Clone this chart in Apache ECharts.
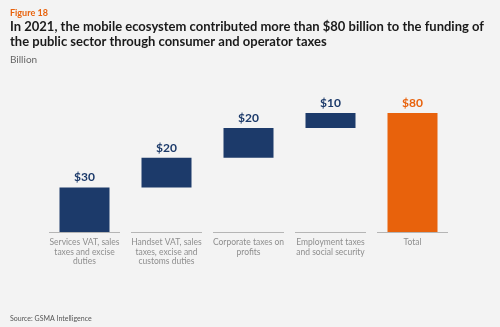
<!DOCTYPE html>
<html><head><meta charset="utf-8">
<script src="https://cdn.jsdelivr.net/npm/echarts@6/dist/echarts.min.js"></script>
<style>html,body{margin:0;padding:0;background:#f3f3f3}#c{width:500px;height:327px}</style>
</head><body><div id="c"></div>
<script>
const categories = ['Services VAT, sales\ntaxes and excise\nduties','Handset VAT, sales\ntaxes, excise and\ncustoms duties','Corporate taxes on\nprofits','Employment taxes\nand social security','Total'];
const values = [30, 20, 20, 10, 80];
const isTotal = [false, false, false, false, true];

const bases = [];
let run = 0;
values.forEach((v, i) => { if (isTotal[i]) { bases.push(0); } else { bases.push(run); run += v; } });

const NAVY = '#1c3a6a', ORANGE = '#e8620c';
const chart = echarts.init(document.getElementById('c'));
chart.setOption({
  backgroundColor: '#f3f3f3',
  animation: false,
  title: [
    {text: 'Figure 18', left: 5, top: 4, textStyle: {fontFamily: 'Lato', fontSize: 9, fontWeight: 'bold', color: '#e8620c'}},
    {text: 'In 2021, the mobile ecosystem contributed more than $80 billion to the funding of\nthe public sector through consumer and operator taxes', left: 5, top: 15,
     textStyle: {fontFamily: 'Lato', fontSize: 13, fontWeight: 'bold', color: '#1a1a1a', lineHeight: 14.5}},
    {text: 'Billion', left: 5, top: 50, textStyle: {fontFamily: 'Lato', fontSize: 10, fontWeight: 'normal', color: '#666'}},
    {text: 'Source: GSMA Intelligence', left: 5, top: 310, textStyle: {fontFamily: 'Lato', fontSize: 7, fontWeight: 'normal', color: '#555'}}
  ],
  grid: {left: 43.5, right: 46.5, top: 113, bottom: 95},
  xAxis: {type: 'category', data: categories, axisLine: {show: false}, axisTick: {show: false},
    axisLabel: {interval: 0, margin: 6, fontFamily: 'Lato', fontSize: 8.5, lineHeight: 9.5, color: '#8e8e8e'}},
  yAxis: {type: 'value', min: 0, max: 80, show: false},
  series: [
    {type: 'bar', stack: 'w', data: bases, itemStyle: {color: 'transparent'}, barWidth: 50, silent: true},
    {type: 'bar', stack: 'w', barWidth: 50,
     data: values.map((v, i) => ({value: v, itemStyle: {color: isTotal[i] ? ORANGE : NAVY},
       label: {color: isTotal[i] ? ORANGE : NAVY}})),
     label: {show: true, position: 'top', distance: 4, formatter: p => '$' + p.value, fontFamily: 'Lato', fontSize: 12, fontWeight: 'bold'}},
    {type: 'custom', data: categories.map((c, i) => [i, 0]), silent: true, z: 5,
     renderItem: (params, api) => {
       const p = api.coord([api.value(0), 0]);
       const w = api.size([1, 0])[0];
       return {type: 'line', shape: {x1: p[0] - w / 2 + 5.5, y1: p[1] + 0.5, x2: p[0] + w / 2 - 5.5, y2: p[1] + 0.5},
         style: {stroke: '#b5b5b5', lineWidth: 1}};
     }}
  ]
});
</script></body></html>
